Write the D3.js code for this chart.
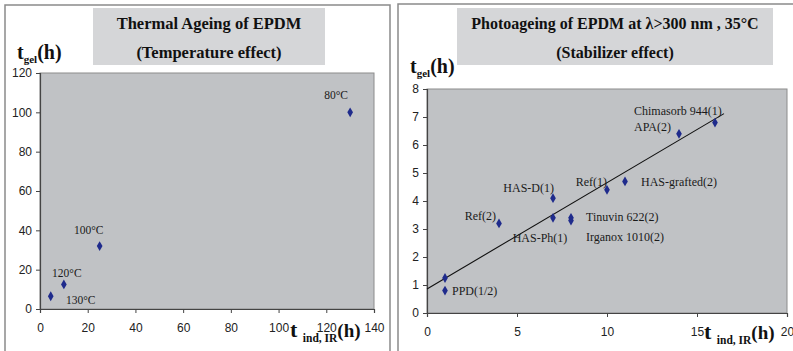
<!DOCTYPE html>
<html>
<head>
<meta charset="utf-8">
<script src="https://cdn.jsdelivr.net/npm/d3@7"></script>
<style>
  body { margin: 0; background: #fff; }
</style>
</head>
<body>
<script>
// data: left panel (thermal ageing)
var thermalX = [130, 25, 10, 4.5];
var thermalY = [100, 32, 12.5, 6.5];
var thermalLabels = ["80°C", "100°C", "120°C", "130°C"];
var thermalXTicks = [0, 20, 40, 60, 80, 100, 120, 140];
var thermalYTicks = [0, 20, 40, 60, 80, 100, 120];

// data: right panel (photoageing)
var photoX = [1, 1, 4, 7, 7, 8, 8, 10, 11, 14, 16];
var photoY = [1.25, 0.8, 3.2, 4.1, 3.4, 3.4, 3.3, 4.4, 4.7, 6.4, 6.8];
var photoLabels = ["", "PPD(1/2)", "Ref(2)", "HAS-D(1)", "HAS-Ph(1)", "Tinuvin 622(2)",
                   "Irganox 1010(2)", "Ref(1)", "HAS-grafted(2)", "APA(2)", "Chimasorb 944(1)"];
var trendX = [0, 16.5];
var trendY = [0.86, 7.12];
var photoXTicks = [0, 5, 10, 15, 20];
var photoYTicks = [0, 1, 2, 3, 4, 5, 6, 7, 8];

var width = 793, height = 351;
var serif = "Liberation Serif, Times New Roman, serif";
var sans = "Liberation Sans, Arial, sans-serif";

var svg = d3.select("body").append("svg")
    .attr("width", width)
    .attr("height", height);

svg.append("rect").attr("width", width).attr("height", height).attr("fill", "#fff");

// label offsets (px) per point: [dx, dy, anchor]
var thermalPos = [[-14, -13, "middle"], [-11, -12, "middle"], [3, -7, "middle"], [30, 8, "middle"]];
var photoPos = [[0, 0, "start"], [7, 4, "start"], [-3, -3, "end"], [1, -6, "end"], [-13, 24, "middle"],
                [15, 3, "start"], [15, 20, "start"], [0, -4, "end"], [16, 5, "start"],
                [-45, -3, "start"], [-81, -8, "start"]];

function panel(o) {
  var g = svg.append("g");

  // frame
  g.append("rect")
    .attr("x", o.frame[0]).attr("y", o.frame[1])
    .attr("width", o.frame[2]).attr("height", o.frame[3])
    .attr("fill", "#fff").attr("stroke", "#8a8a8a").attr("stroke-width", 1.5);

  // title box
  g.append("rect")
    .attr("x", o.tbox[0]).attr("y", o.tbox[1])
    .attr("width", o.tbox[2]).attr("height", o.tbox[3])
    .attr("fill", "#d5d6d8");
  var tcx = o.tbox[0] + o.tbox[2] / 2;
  o.title.forEach(function(t, i) {
    g.append("text")
      .attr("x", tcx).attr("y", o.tbox[1] + 21 + i * 29)
      .attr("text-anchor", "middle")
      .style("font-family", serif).attr("font-weight", "bold")
      .attr("font-size", o.titleSize).attr("fill", "#111")
      .text(t);
  });

  var x = d3.scaleLinear().domain(o.xdom).range([o.plot[0], o.plot[2]]);
  var y = d3.scaleLinear().domain(o.ydom).range([o.plot[3], o.plot[1]]);

  // plot area
  g.append("rect")
    .attr("x", o.plot[0]).attr("y", o.plot[1])
    .attr("width", o.plot[2] - o.plot[0]).attr("height", o.plot[3] - o.plot[1])
    .attr("fill", "#c0c2c5").attr("stroke", "#8c8c8c").attr("stroke-width", 1);

  var xa = g.append("g")
    .attr("transform", "translate(0," + o.plot[3] + ")")
    .call(d3.axisBottom(x).tickValues(o.xticks).tickSize(4).tickPadding(10));
  var ya = g.append("g")
    .attr("transform", "translate(" + o.plot[0] + ",0)")
    .call(d3.axisLeft(y).tickValues(o.yticks).tickSize(4).tickPadding(4));
  [xa, ya].forEach(function(a) {
    a.select(".domain").attr("stroke", "#444").attr("stroke-width", 1.2);
    a.selectAll(".tick line").attr("stroke", "#444");
    a.selectAll(".tick text")
      .style("font-family", sans).attr("font-size", "12px").attr("fill", "#222");
  });

  // trend line
  if (o.trend) {
    g.append("line")
      .attr("x1", x(o.trend[0][0])).attr("y1", y(o.trend[1][0]))
      .attr("x2", x(o.trend[0][1])).attr("y2", y(o.trend[1][1]))
      .attr("stroke", "#111").attr("stroke-width", 1.1);
  }

  // points
  var pts = o.xs.map(function(v, i) { return { x: v, y: o.ys[i], label: o.labels[i], pos: o.pos[i] }; });
  g.selectAll("path.pt").data(pts).enter().append("path")
    .attr("class", "pt")
    .attr("transform", function(d) { return "translate(" + x(d.x) + "," + y(d.y) + ")"; })
    .attr("d", d3.symbol(d3.symbolDiamond, 28))
    .attr("fill", "#1f2b8c");

  g.selectAll("text.lbl").data(pts.filter(function(d) { return d.label; })).enter().append("text")
    .attr("class", "lbl")
    .attr("x", function(d) { return x(d.x) + d.pos[0]; })
    .attr("y", function(d) { return y(d.y) + d.pos[1]; })
    .attr("text-anchor", function(d) { return d.pos[2]; })
    .style("font-family", serif).attr("font-size", o.lblSize)
    .attr("fill", "#1a1a1a")
    .text(function(d) { return d.label; });

  // y axis title t_gel(h)
  var yt = g.append("text")
    .attr("x", o.ytitle[0]).attr("y", o.ytitle[1])
    .style("font-family", serif).attr("font-weight", "bold").attr("fill", "#111");
  yt.append("tspan").attr("font-size", "20px").text("t");
  yt.append("tspan").attr("font-size", "11px").attr("dy", 4).text("gel");
  yt.append("tspan").attr("font-size", "20px").attr("dy", -4).text("(h)");

  // x axis title t ind,IR(h)
  var xt = g.append("text")
    .attr("x", o.xtitle[0]).attr("y", o.xtitle[1])
    .style("font-family", serif).attr("font-weight", "bold").attr("fill", "#111");
  xt.append("tspan").attr("font-size", "22px").text("t ");
  xt.append("tspan").attr("font-size", "11.5px").attr("dy", 5).text("ind, IR");
  xt.append("tspan").attr("font-size", "19px").attr("dy", -5).text("(h)");
}

panel({
  frame: [5, 5, 385, 360],
  tbox: [93, 8, 232, 57],
  title: ["Thermal Ageing of EPDM", "(Temperature effect)"],
  titleSize: "16.5px",
  plot: [40, 73, 374, 309],
  xdom: [0, 140], ydom: [0, 120],
  xticks: thermalXTicks, yticks: thermalYTicks,
  xs: thermalX, ys: thermalY, labels: thermalLabels, pos: thermalPos,
  lblSize: "11.5px",
  ytitle: [17, 59], xtitle: [290, 337]
});

panel({
  frame: [398, 4, 410, 360],
  tbox: [457, 8, 316, 57],
  title: ["Photoageing of EPDM at λ>300 nm , 35°C", "(Stabilizer effect)"],
  titleSize: "16px",
  plot: [427, 89, 787, 313],
  xdom: [0, 20], ydom: [0, 8],
  xticks: photoXTicks, yticks: photoYTicks,
  xs: photoX, ys: photoY, labels: photoLabels, pos: photoPos,
  trend: [trendX, trendY],
  lblSize: "12px",
  ytitle: [410, 73], xtitle: [704, 339]
});
</script>
</body>
</html>
